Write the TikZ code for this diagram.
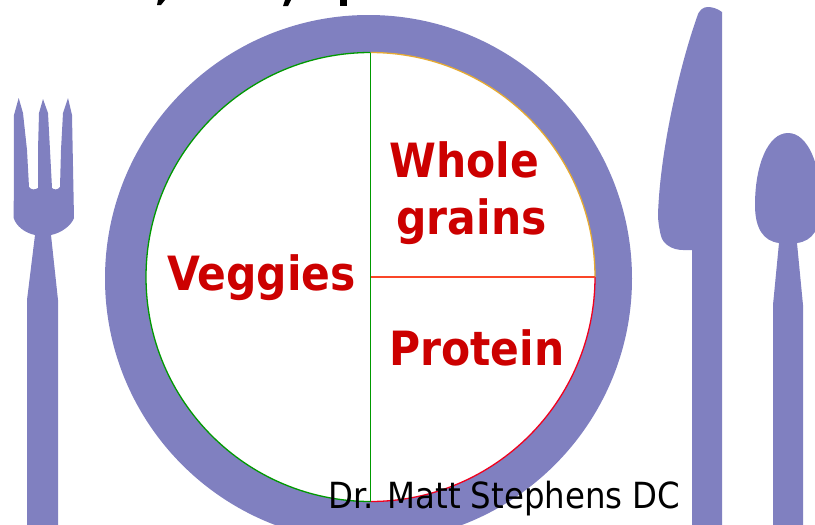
\documentclass[tikz,border=0pt]{standalone}
\usepackage{fontspec}
\setmainfont{DejaVu Sans Condensed}
\usetikzlibrary{positioning}
\definecolor{platepurple}{RGB}{128,128,192}
\definecolor{labelred}{RGB}{204,0,0}
\definecolor{rimgreen}{RGB}{0,153,0}
\definecolor{rimorange}{RGB}{230,170,50}
\definecolor{rimred}{RGB}{240,0,30}
\definecolor{splitorange}{RGB}{250,70,40}

\begin{document}
\begin{tikzpicture}[
      x=1pt, y=-1pt,
      food/.style={font=\bfseries\fontsize{47.2}{57}\selectfont, text=labelred, align=center, inner sep=0pt},
      credit/.style={font=\fontsize{36}{40}\selectfont, text=black, inner sep=0pt},
      rimline/.style={line width=1.3pt},
      cutlery/.style={fill=platepurple, draw=none}
    ]
      \useasboundingbox (0,0) rectangle (815,525);
      \clip (0,0) rectangle (815,525);

      % plate
      \fill[platepurple] (368.5,278.5) circle[radius=263.5];
      \fill[white] (370.5,277) circle[radius=224.5];
      \coordinate (hub) at (370.5,277);
      \coordinate (top) at (370.5,52.5);
      \coordinate (bottom) at (370.5,501.5);
      \coordinate (east) at (595,277);
      \draw[rimorange, rimline] (top) arc[start angle=-90, end angle=0, radius=224.5];
      \draw[rimred, rimline] (east) arc[start angle=0, end angle=90, radius=224.5];
      \draw[rimgreen, rimline] (bottom) arc[start angle=90, end angle=270, radius=224.5];
      \draw[rimgreen, rimline] (top) -- (bottom);
      \draw[splitorange, rimline] (hub) -- (east);

      % fork
      \path[cutlery] (18.7,98) -- (14,115) -- (13.7,218)
        .. controls (16,226) and (25,233) .. (35,235) -- (27,300) -- (27,530) -- (58,530) -- (58,300) -- (51,235)
        .. controls (61,233) and (71,226) .. (74,218) -- (72,115) -- (68,98) -- (63,113) -- (61,150) -- (60,187)
        .. controls (58,190) and (54,190) .. (52,188) -- (50,150) -- (48,113) -- (43,99) -- (39,113) -- (38,150) -- (38,188)
        .. controls (35,190) and (31,190) .. (29,187) -- (27,150) -- (23,113) -- cycle;

      % knife
      \path[cutlery] (697,17) .. controls (699,10) and (703,7) .. (708,7)
        .. controls (713,7) and (718,9) .. (722,12) -- (722,530) -- (692,530) -- (692,250) -- (683,250)
        .. controls (672,250) and (663,244) .. (661,236)
        .. controls (659,228) and (658,220) .. (658,215)
        .. controls (660,150) and (680,65) .. (697,17) -- cycle;

      % spoon
      \path[cutlery] (788,133) .. controls (768,133) and (755,165) .. (755,205)
        .. controls (755,228) and (763,241) .. (779,243) -- (773,305) -- (773,530) -- (803,530) -- (803,305) -- (797,243)
        .. controls (813,241) and (821,228) .. (821,205)
        .. controls (821,165) and (808,133) .. (788,133) -- cycle;

      % clipped heading scraps
      \fill[black] (158,0) -- (165,0) -- (161,5) -- (157,5) -- cycle;
      \fill[black] (285,0) -- (291,0) -- (288,6) -- (283,6) -- cycle;
      \fill[black] (340,0) -- (347,0) -- (347,6) -- (340,6) -- cycle;

      \node[food, anchor=base] (veggies) at (261.5,290) {Veggies};
      \node[food] (grains) at (471.5,193) {Whole\hspace*{14pt}\\grains};
      \node[food, anchor=base] (protein) at (477,365) {Protein};
      \node[credit, anchor=base] (author) at (504.5,508) {Dr. Matt Stephens DC};
    \end{tikzpicture}
\end{document}
